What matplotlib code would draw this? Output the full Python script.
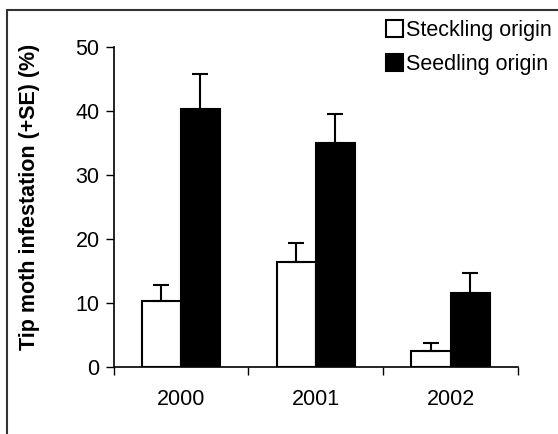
import matplotlib
matplotlib.use("Agg")
import matplotlib.pyplot as plt
import matplotlib.patches as mpatches
import numpy as np

plt.rcParams.update({
    "font.family": ["Liberation Sans", "DejaVu Sans"],
    "font.size": 15.5,
})

# data
years = ["2000", "2001", "2002"]
steckling = [10.2, 16.4, 2.5]
steckling_se = [2.6, 2.9, 1.2]
seedling = [40.2, 34.9, 11.5]
seedling_se = [5.5, 4.6, 3.1]

fig = plt.figure(figsize=(5.58, 4.34), dpi=100)
ax = fig.add_axes([113.5 / 558, 1 - 366.7 / 434, (518 - 113.5) / 558, 320 / 434])

x = np.arange(len(years))
w = 0.29
err_kw = dict(ecolor="black", elinewidth=1.5, capsize=5.8, capthick=1.5)

ax.bar(x, steckling, width=-w, align="edge", color="white", edgecolor="black",
       linewidth=1.5, label="Steckling origin", zorder=2,
       yerr=[np.zeros(3), steckling_se], error_kw=err_kw)
ax.bar(x, seedling, width=w, align="edge", color="black", edgecolor="black",
       linewidth=1.5, label="Seedling origin", zorder=2,
       yerr=[np.zeros(3), seedling_se], error_kw=err_kw)

ax.set_xlim(-0.5, 2.5)
ax.set_ylim(0, 50)
ax.set_yticks(np.arange(0, 51, 10))
ax.tick_params(axis="y", direction="out", length=6, width=1, pad=4)

# category boundaries get the tick marks, labels sit at centres
ax.set_xticks([-0.5, 0.5, 1.5, 2.5])
ax.set_xticklabels([])
ax.set_xticks(x, minor=True)
ax.set_xticklabels(years, minor=True)
ax.tick_params(axis="x", which="major", direction="out", length=6, width=1)
ax.tick_params(axis="x", which="minor", length=0, pad=16)

for side in ["top", "right"]:
    ax.spines[side].set_visible(False)
for side in ["left", "bottom"]:
    ax.spines[side].set_linewidth(1.2)

ax.set_ylabel("Tip moth infestation (+SE) (%)", fontweight="bold")
ax.yaxis.set_label_coords(-0.182, 0.53)

fig.legend(loc="upper left", bbox_to_anchor=(386 / 558, 1 - 20 / 434),
           frameon=False, handlelength=0.8, handleheight=0.8,
           handletextpad=0.15, labelspacing=0.6, borderpad=0, borderaxespad=0)

# outer frame, cropped at right and bottom like the reference
frame = mpatches.Rectangle((7 / 558, -0.1), 1.2, 1.1 - 10 / 434, fill=False,
                           edgecolor="#333333", linewidth=1.5,
                           transform=fig.transFigure, clip_on=False)
fig.patches.append(frame)

fig.savefig("out.png", dpi=100, facecolor="white")
